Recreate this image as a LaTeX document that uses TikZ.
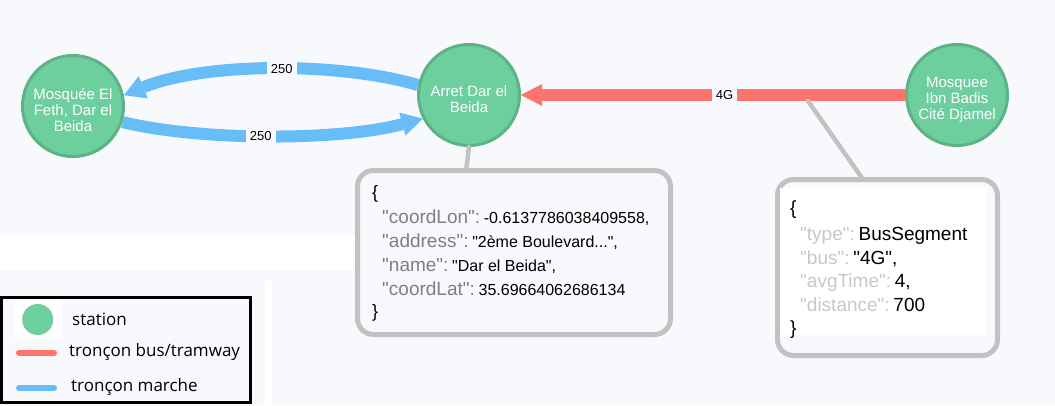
\documentclass[tikz,border=0pt]{standalone}
\usepackage{fontspec}
\setmainfont{Liberation Sans}[Ligatures=TeXOff]
\newfontfamily\legendfont{Open Sans}
\usetikzlibrary{arrows.meta}
\definecolor{bg}{HTML}{F8F9FC}
\definecolor{nodefill}{HTML}{6DCE9E}
\definecolor{nodedraw}{HTML}{5DB386}
\definecolor{busred}{HTML}{FF756E}
\definecolor{walkblue}{HTML}{68BDF6}
\definecolor{pgray}{HTML}{C2C2C2}
\definecolor{keygray}{HTML}{7F7F7F}
\definecolor{keylight}{HTML}{C8C8C8}
\newcommand\jkey[1]{{\color{keygray}\fontsize{19}{19}\selectfont #1}}
\newcommand\jval[1]{{\color{black}\fontsize{16}{16}\selectfont #1}}
\newcommand\jkeyl[1]{{\color{keylight}\fontsize{19}{19}\selectfont #1}}
\newcommand\jvalb[1]{{\color{black}\fontsize{19}{19}\selectfont #1}}
\begin{document}
\begin{tikzpicture}[x=1pt,y=-1pt,
  station/.style={circle, fill=nodefill, draw=nodedraw, line width=3pt, minimum size=101pt, inner sep=0pt},
  stext/.style={text=white, align=center, font=\fontsize{15}{16}\selectfont, inner sep=0pt},
  walk/.style={draw=walkblue, line width=12pt, -{Triangle[length=21pt,width=24pt,line width=0pt]}},
  bus/.style={draw=busred, line width=12pt, -{Triangle[length=21pt,width=22pt,line width=0pt]}},
  elabel/.style={fill=bg, font=\fontsize{13}{13}\selectfont, inner xsep=4pt, inner ysep=0pt, minimum height=14pt, text=black},
  pointer/.style={draw=pgray, line width=4.5pt, line cap=round},
  infobox/.style={draw=pgray, line width=5pt, rounded corners=16pt, fill=bg, inner sep=0pt},
  jline/.style={anchor=base west, inner sep=0pt},
  legtext/.style={anchor=base west, inner sep=0pt, font=\legendfont\fontsize{17}{17}\selectfont}
]
\useasboundingbox (0,0) rectangle (1055,405);
\fill[bg] (0,0) rectangle (1055,405);
\fill[white] (0,235) rectangle (355,270);
\fill[white] (265,280) rectangle (272,405);

% info boxes
\node[infobox, minimum width=313pt, minimum height=164pt] (box1) at (514,252.5) {};
\node[infobox, minimum width=220pt, minimum height=176pt] (box2) at (887.5,267.5) {};
\fill[white] (780,188) rectangle (987,335);

% pointers
\coordinate (p1) at (466,171);
\coordinate (q) at (808,101);
\coordinate (p2) at (862,178);

% stations
\node[station] (feth) at (73,106) {};
\node[station] (arret) at (469,95) {};
\node[station] (ibn) at (957,95) {};

\draw[pointer] (arret.south) -- (p1);

% edges
\draw[walk] (arret.169) .. controls (340,62) and (205,62) .. (feth.12)
  node[elabel, pos=0.47] (l1) {250};
\draw[walk] (feth.-18) .. controls (200,141) and (340,141) .. (arret.207)
  node[elabel, pos=0.47] (l2) {250};
\draw[bus] (ibn) -- (arret) node[elabel, pos=0.47] (l3) {4G};

\draw[pointer] (q) -- (p2);

% station labels
\node[stext] (tfeth) at ([yshift=-4pt]feth.center) {Mosquée El\\Feth, Dar el\\Beida};
\node[stext] (tarret) at ([yshift=-4pt]arret.center) {Arret Dar el\\Beida};
\node[stext] (tibn) at ([yshift=-5pt]ibn.center) {Mosquee\\Ibn Badis\\Cité Djamel};

% box 1 text
\node[jline] (b1a) at (372,198) {\fontsize{18}{18}\selectfont\{};
\node[jline] (b1b) at (382,223) {\jkey{"coordLon":} \jval{-0.6137786038409558,}};
\node[jline] (b1c) at (382,247) {\jkey{"address":} \jval{"2ème Boulevard...",}};
\node[jline] (b1d) at (382,271) {\jkey{"name":} \jval{"Dar el Beida",}};
\node[jline] (b1e) at (382,295) {\jkey{"coordLat":} \jval{35.69664062686134}};
\node[jline] (b1f) at (372,317) {\fontsize{18}{18}\selectfont\}};

% box 2 text
\node[jline] (b2a) at (790,214) {\fontsize{19}{19}\selectfont\{};
\node[jline] (b2b) at (800,240) {\jkeyl{"type":} \jvalb{BusSegment}};
\node[jline] (b2c) at (800,264) {\jkeyl{"bus":} \jvalb{"4G",}};
\node[jline] (b2d) at (800,287) {\jkeyl{"avgTime":} \jvalb{4,}};
\node[jline] (b2e) at (800,311) {\jkeyl{"distance":} \jvalb{700}};
\node[jline] (b2f) at (790,334) {\fontsize{19}{19}\selectfont\}};

% legend
\node[draw=black, line width=3pt, fill=bg, minimum width=249pt, minimum height=105pt, inner sep=0pt] (legend) at (126,350) {};
\fill[white] (15,300) rectangle (62,339);
\node[circle, fill=nodefill, minimum size=31pt, inner sep=0pt] (legst) at (37.7,319.5) {};
\coordinate (r1) at (19,352.7);
\coordinate (r2) at (54,352.7);
\coordinate (w1) at (19,388);
\coordinate (w2) at (54,388);
\draw[busred, line width=6pt, line cap=round] (r1) -- (r2);
\draw[walkblue, line width=6pt, line cap=round] (w1) -- (w2);
\node[legtext] (lt1) at (72,325) {station};
\node[legtext] (lt2) at (69,356) {tronçon bus/tramway};
\node[legtext] (lt3) at (71,391.5) {tronçon marche};
\end{tikzpicture}
\end{document}
